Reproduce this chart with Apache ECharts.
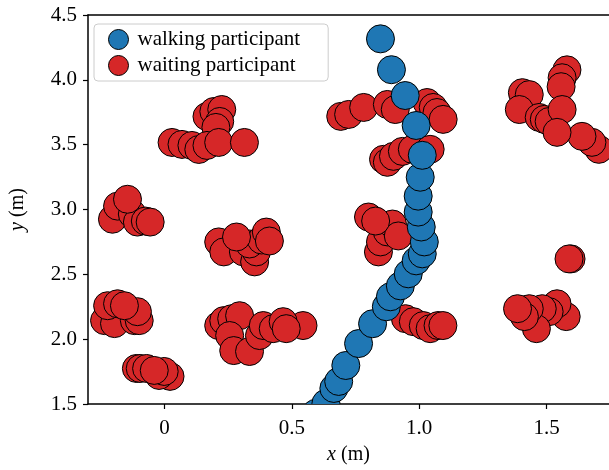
<!DOCTYPE html>
<html>
<head>
<meta charset="utf-8">
<script src="https://cdn.jsdelivr.net/npm/echarts@6/dist/echarts.min.js"></script>
<style>html,body{margin:0;padding:0;background:#fff}#c{width:609px;height:470px}</style>
</head>
<body>
<div id="c"></div>
<script>
const xTicks = [0, 0.5, 1.0, 1.5];
const yTicks = [1.5, 2.0, 2.5, 3.0, 3.5, 4.0, 4.5];

const walkingX = [0.595,0.634,0.665,0.684,0.712,0.762,0.817,0.871,0.887,0.926,0.957,0.988,1.012,1.020,1.008,0.996,0.996,1.004,1.012,0.988,0.945,0.891,0.848];
const walkingY = [1.429,1.505,1.620,1.674,1.797,1.966,2.119,2.250,2.327,2.411,2.504,2.604,2.658,2.750,2.865,2.980,3.103,3.249,3.418,3.648,3.879,4.078,4.316];

const waitingX = [
  0.167,0.194,0.225,0.217,0.202,0.030,0.069,0.108,0.135,0.167,0.213,0.314,
  -0.204,-0.184,-0.126,-0.106,-0.075,-0.056,-0.145,
  0.213,0.233,0.310,0.354,0.361,0.334,0.381,0.400,0.412,0.283,
  -0.235,-0.196,-0.118,-0.099,-0.106,-0.223,-0.184,-0.157,
  -0.110,-0.095,-0.070,0.022,-0.021,-0.001,-0.040,
  0.213,0.233,0.264,0.295,0.256,0.272,0.334,0.373,0.388,0.427,0.544,0.466,0.478,
  0.692,0.723,0.782,0.875,0.906,1.031,1.055,1.070,1.094,
  0.860,0.875,0.899,0.934,0.973,1.043,
  0.801,0.840,0.848,0.875,0.895,0.918,0.829,
  0.946,0.977,1.016,1.043,1.074,1.093,
  1.405,1.432,1.393,1.471,1.491,1.510,1.580,1.561,1.557,1.561,1.705,1.678,1.639,1.541,
  1.596,1.588,
  1.577,1.541,1.510,1.483,1.460,1.432,1.413,1.386
];
const waitingY = [
  3.717,3.756,3.771,3.679,3.633,3.517,3.502,3.494,3.463,3.494,3.517,3.517,
  2.925,3.026,2.965,2.903,2.911,2.903,3.079,
  2.750,2.673,2.673,2.596,2.673,2.734,2.765,2.826,2.757,2.788,
  2.143,2.120,2.143,2.143,2.212,2.258,2.273,2.258,
  1.774,1.774,1.774,1.713,1.720,1.751,1.759,
  2.105,2.143,2.158,2.181,2.028,1.912,1.905,2.028,2.105,2.081,2.105,2.135,2.081,
  3.718,3.733,3.787,3.810,3.771,3.825,3.787,3.748,3.695,
  3.387,3.364,3.410,3.448,3.464,3.464,
  2.942,2.673,2.750,2.827,2.888,2.796,2.911,
  2.158,2.135,2.105,2.081,2.105,2.105,
  3.901,3.886,3.771,3.710,3.695,3.679,4.077,4.016,3.947,3.771,3.464,3.518,3.564,3.595,
  2.619,2.619,
  2.174,2.273,2.212,2.235,2.081,2.235,2.174,2.235
];

const BLUE = '#1f77b4', RED = '#d62728';
const FONT = 'Liberation Serif';
const R = 14;

function pairs(xs, ys) { return xs.map((x, i) => [x, ys[i]]); }

function circleSeries(name, data, color) {
  return {
    type: 'custom',
    name: name,
    clip: true,
    data: data,
    encode: { x: 0, y: 1 },
    itemStyle: { color: color, borderColor: '#000', borderWidth: 1 },
    renderItem: function (params, api) {
      const p = api.coord([api.value(0), api.value(1)]);
      return {
        type: 'circle',
        shape: { cx: p[0], cy: p[1], r: R },
        style: { fill: color, stroke: '#000', lineWidth: 1 }
      };
    }
  };
}

const chart = echarts.init(document.getElementById('c'), null, { renderer: 'canvas' });
const xMin = -0.3, xMax = 1.745;
chart.setOption({
  animation: false,
  textStyle: { fontFamily: FONT },
  grid: { left: 85, right: 0, top: 15, bottom: 64, containLabel: false },
  legend: {
    left: 94, top: 24,
    orient: 'vertical',
    itemWidth: 20, itemHeight: 20, itemGap: 5,
    padding: [5, 28, 5, 14],
    borderColor: '#cccccc', borderWidth: 1, borderRadius: 4,
    backgroundColor: 'rgba(255,255,255,0.8)',
    textStyle: { fontFamily: FONT, fontSize: 21, color: '#000', padding: [0, 0, 0, 4] },
    data: [
      { name: 'walking participant', icon: 'circle', itemStyle: { color: BLUE, borderColor: '#000', borderWidth: 1 } },
      { name: 'waiting participant', icon: 'circle', itemStyle: { color: RED, borderColor: '#000', borderWidth: 1 } }
    ],
    z: 20
  },
  xAxis: [{
    type: 'value', min: xMin, max: xMax, position: 'bottom',
    splitLine: { show: false },
    axisLine: { show: true, onZero: false, lineStyle: { color: '#000', width: 1.5 } },
    axisTick: { show: true, length: 5, inside: false, customValues: xTicks, lineStyle: { color: '#000', width: 1.2 } },
    axisLabel: { customValues: xTicks, margin: 14, fontFamily: FONT, fontSize: 21, color: '#000',
      formatter: v => (Math.abs(v) < 1e-9 ? '0' : v.toFixed(1)) },
    name: '{i|x} (m)', nameLocation: 'middle', nameGap: 41,
    nameTextStyle: { fontFamily: FONT, fontSize: 20, color: '#000',
      rich: { i: { fontFamily: FONT, fontSize: 20, fontStyle: 'italic', color: '#000' } } }
  }, {
    type: 'value', min: xMin, max: xMax, position: 'top',
    splitLine: { show: false },
    axisLine: { show: true, onZero: false, lineStyle: { color: '#000', width: 1.5 } },
    axisTick: { show: false }, axisLabel: { show: false }
  }],
  yAxis: {
    type: 'value', min: 1.5, max: 4.5, interval: 0.5,
    splitLine: { show: false },
    axisLine: { show: true, onZero: false, lineStyle: { color: '#000', width: 1.5 } },
    axisTick: { show: true, length: 5, lineStyle: { color: '#000', width: 1.2 } },
    axisLabel: { margin: 11, fontFamily: FONT, fontSize: 21, color: '#000', formatter: v => v.toFixed(1) },
    name: '{i|y} (m)', nameLocation: 'middle', nameGap: 60,
    nameTextStyle: { fontFamily: FONT, fontSize: 20, color: '#000',
      rich: { i: { fontFamily: FONT, fontSize: 20, fontStyle: 'italic', color: '#000' } } }
  },
  series: [
    circleSeries('waiting participant', pairs(waitingX, waitingY), RED),
    circleSeries('walking participant', pairs(walkingX, walkingY), BLUE)
  ]
});
</script>
</body>
</html>
